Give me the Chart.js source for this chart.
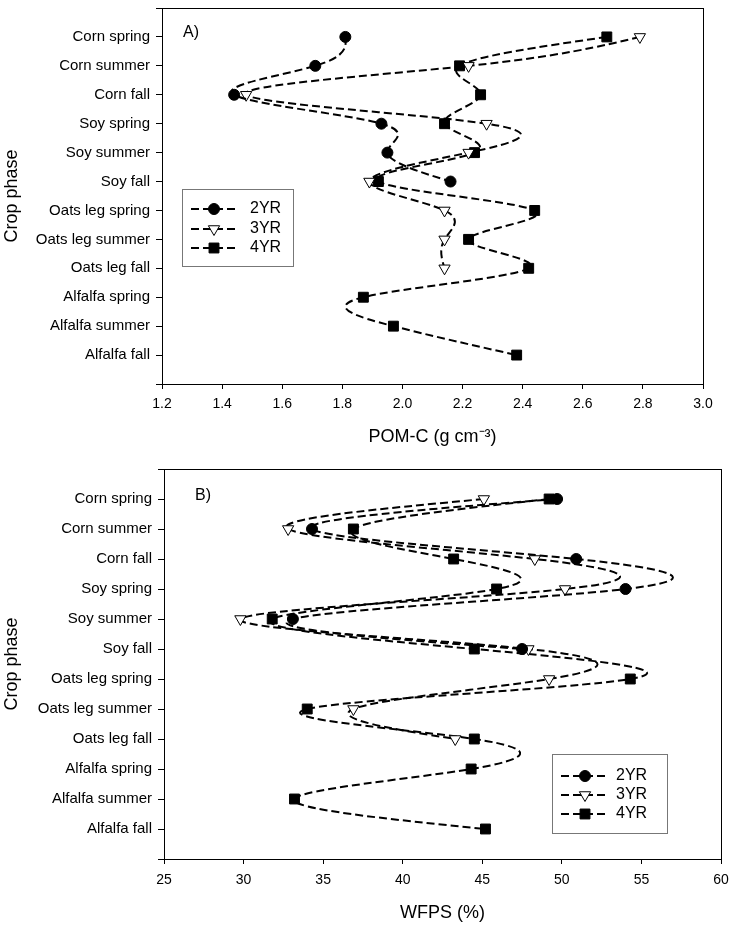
<!DOCTYPE html>
<html>
<head>
<meta charset="utf-8">
<script src="https://cdn.jsdelivr.net/npm/chart.js@4/dist/chart.umd.min.js"></script>
<style>
  body { margin: 0; background: #fff; }
  #wrap { position: relative; width: 733px; height: 928px; }
  canvas { position: absolute; left: 0; }
</style>
</head>
<body>
<div id="wrap">
  <canvas id="chartA" width="733" height="460" style="top:0"></canvas>
  <canvas id="chartB" width="733" height="468" style="top:460px"></canvas>
</div>
<script>
// crop phases, top to bottom
var phases = ['Corn spring', 'Corn summer', 'Corn fall', 'Soy spring', 'Soy summer', 'Soy fall',
  'Oats leg spring', 'Oats leg summer', 'Oats leg fall', 'Alfalfa spring', 'Alfalfa summer', 'Alfalfa fall'];
var seriesNames = ['2YR', '3YR', '4YR'];

// A) POM-C (g cm-3)
var pomc2 = [1.81, 1.71, 1.44, 1.93, 1.95, 2.16];
var pomc3 = [2.79, 2.22, 1.48, 2.28, 2.22, 1.89, 2.14, 2.14, 2.14];
var pomc4 = [2.68, 2.19, 2.26, 2.14, 2.24, 1.92, 2.44, 2.22, 2.42, 1.87, 1.97, 2.38];
var pomTicks = [1.2, 1.4, 1.6, 1.8, 2.0, 2.2, 2.4, 2.6, 2.8, 3.0];

// B) WFPS (%)
var wfps2 = [49.7, 34.3, 50.9, 54.0, 33.1, 47.5];
var wfps3 = [45.1, 32.8, 48.3, 50.2, 29.8, 47.9, 49.2, 36.9, 43.3];
var wfps4 = [49.2, 36.9, 43.2, 45.9, 31.8, 44.5, 54.3, 34.0, 44.5, 44.3, 33.2, 45.2];
var wfpsTicks = [25, 30, 35, 40, 45, 50, 55, 60];

var narrow = '"Liberation Sans Narrow", "Arial Narrow", "Liberation Sans", Arial, sans-serif';
var sans = '"Liberation Sans", Arial, sans-serif';

var markers = [
  { pointStyle: 'circle', radius: 5.5, rotation: 0, fill: '#000' },
  { pointStyle: 'triangle', radius: 6.5, rotation: 180, fill: '#fff' },
  { pointStyle: 'rect', radius: 7, rotation: 0, fill: '#000' }
];

function toPoints(vals) {
  return vals.map(function (v, i) { return { x: v, y: i }; });
}

function makeDataset(vals, k) {
  var m = markers[k];
  return {
    label: seriesNames[k],
    data: toPoints(vals),
    showLine: true,
    borderColor: '#000',
    borderWidth: 2,
    borderDash: [8, 4],
    tension: 0.4,
    fill: false,
    pointStyle: m.pointStyle,
    pointRotation: m.rotation,
    pointRadius: m.radius,
    pointHoverRadius: m.radius,
    pointBackgroundColor: m.fill,
    pointBorderColor: '#000',
    pointBorderWidth: 1
  };
}

// spline x(y) like the original plot: set bezier control points from a natural cubic spline
var splinePlugin = {
  id: 'ySpline',
  beforeDatasetDraw: function (chart, args) {
    var meta = args.meta;
    var line = meta.dataset;
    var pts = meta.data;
    if (!line || pts.length < 2) return;
    line.updateControlPoints(chart.chartArea, meta.indexAxis);
    var n = pts.length, t = [], v = [], h = [], M = [], i;
    for (i = 0; i < n; i++) { t.push(pts[i].y); v.push(pts[i].x); M.push(0); }
    for (i = 0; i < n - 1; i++) h.push(t[i + 1] - t[i]);
    if (n > 2) {
      var a = [], b = [], c = [], d = [];
      for (i = 1; i < n - 1; i++) {
        a.push(h[i - 1]); b.push(2 * (h[i - 1] + h[i])); c.push(h[i]);
        d.push(6 * ((v[i + 1] - v[i]) / h[i] - (v[i] - v[i - 1]) / h[i - 1]));
      }
      var m = b.length;
      for (i = 1; i < m; i++) {
        var w = a[i] / b[i - 1];
        b[i] -= w * c[i - 1];
        d[i] -= w * d[i - 1];
      }
      var sol = new Array(m);
      sol[m - 1] = d[m - 1] / b[m - 1];
      for (i = m - 2; i >= 0; i--) sol[i] = (d[i] - c[i] * sol[i + 1]) / b[i];
      for (i = 0; i < m; i++) M[i + 1] = sol[i];
    }
    pts[0].cp1x = pts[0].x; pts[0].cp1y = pts[0].y;
    pts[n - 1].cp2x = pts[n - 1].x; pts[n - 1].cp2y = pts[n - 1].y;
    for (i = 0; i < n - 1; i++) {
      var s = (v[i + 1] - v[i]) / h[i];
      var d0 = s - h[i] * (2 * M[i] + M[i + 1]) / 6;
      var d1 = s + h[i] * (M[i] + 2 * M[i + 1]) / 6;
      pts[i].cp2x = v[i] + d0 * h[i] / 3;
      pts[i].cp2y = t[i] + h[i] / 3;
      pts[i + 1].cp1x = v[i + 1] - d1 * h[i] / 3;
      pts[i + 1].cp1y = t[i + 1] - h[i] / 3;
    }
  }
};

// frame, panel letter and the boxed legend
var decorPlugin = {
  id: 'decor',
  afterDraw: function (chart, args, opts) {
    var ctx = chart.ctx;
    var area = chart.chartArea;
    ctx.save();
    ctx.strokeStyle = '#000';
    ctx.lineWidth = 1;
    ctx.strokeRect(Math.round(area.left) + 0.5, Math.round(area.top) + 0.5,
      Math.round(area.right - area.left), Math.round(area.bottom - area.top));

    ctx.fillStyle = '#000';
    ctx.font = '16px ' + narrow;
    ctx.textBaseline = 'middle';
    ctx.textAlign = 'left';
    ctx.fillText(opts.letter, opts.letterX, opts.letterY);

    var lg = opts.legend;
    ctx.strokeStyle = '#777';
    ctx.strokeRect(lg.x + 0.5, lg.y + 0.5, lg.w, lg.h);
    for (var k = 0; k < seriesNames.length; k++) {
      var y = lg.rowY[k];
      ctx.strokeStyle = '#000';
      ctx.lineWidth = 2;
      ctx.setLineDash([8, 4]);
      ctx.beginPath();
      ctx.moveTo(lg.lineX0, y);
      ctx.lineTo(lg.lineX1, y);
      ctx.stroke();
      ctx.setLineDash([]);
      ctx.lineWidth = 1;
      ctx.fillStyle = markers[k].fill;
      Chart.helpers.drawPoint(ctx, {
        pointStyle: markers[k].pointStyle,
        radius: markers[k].radius,
        rotation: markers[k].rotation,
        borderWidth: 1
      }, lg.markX, y);
      ctx.fillStyle = '#000';
      ctx.font = '16px ' + narrow;
      ctx.fillText(seriesNames[k], lg.textX, y);
    }
    ctx.restore();
  }
};

function makeChart(id, sets, xTicks, xMin, xMax, xTitle, fmt, cfg) {
  return new Chart(document.getElementById(id), {
    type: 'scatter',
    data: { datasets: sets.map(makeDataset) },
    plugins: [splinePlugin, decorPlugin],
    options: {
      responsive: false,
      animation: false,
      layout: { padding: { top: cfg.top, right: cfg.right, left: 0, bottom: 0 } },
      plugins: {
        legend: { display: false },
        tooltip: { enabled: false },
        decor: cfg.decor
      },
      scales: {
        x: {
          type: 'linear',
          position: 'bottom',
          min: xMin,
          max: xMax,
          afterBuildTicks: function (s) { s.ticks = xTicks.map(function (v) { return { value: v }; }); },
          afterFit: function (s) { s.height = cfg.xHeight; s.paddingLeft = 0; s.paddingRight = 0; },
          ticks: {
            callback: fmt,
            color: '#000',
            font: { family: sans, size: 14 },
            padding: cfg.xPad,
            maxRotation: 0,
            autoSkip: false
          },
          grid: { drawOnChartArea: false, drawTicks: true, tickLength: 5, color: '#000' },
          border: { color: '#000', width: 1 },
          title: {
            display: true,
            text: xTitle,
            color: '#000',
            font: { family: sans, size: 18 },
            padding: { top: 0, bottom: cfg.titlePad }
          }
        },
        y: {
          type: 'linear',
          reverse: true,
          min: -1,
          max: 12,
          afterBuildTicks: function (s) {
            var t = [];
            for (var i = -1; i <= phases.length; i++) t.push({ value: i });
            s.ticks = t;
          },
          afterFit: function (s) { s.width = cfg.yWidth; s.paddingTop = 0; s.paddingBottom = 0; },
          ticks: {
            callback: function (v) { return phases[v] || ''; },
            color: '#000',
            font: { family: narrow, size: 15 },
            padding: 6,
            autoSkip: false
          },
          grid: { drawOnChartArea: false, drawTicks: true, tickLength: 6, color: '#000' },
          border: { color: '#000', width: 1 },
          title: {
            display: true,
            text: 'Crop phase',
            color: '#000',
            font: { family: sans, size: 18 },
            padding: { top: 1, bottom: 0 }
          }
        }
      }
    }
  });
}

makeChart('chartA', [pomc2, pomc3, pomc4], pomTicks, 1.2, 3.0, 'POM-C (g cm\u207B\u00B3)',
  function (v) { return v.toFixed(1); },
  {
    top: 4, right: 30, yWidth: 162, xHeight: 76, xPad: 7, titlePad: 12,
    decor: {
      letter: 'A)', letterX: 183, letterY: 33,
      legend: { x: 182, y: 189, w: 111, h: 77, rowY: [209, 229, 248], lineX0: 191, lineX1: 237, markX: 214, textX: 250 }
    }
  });

makeChart('chartB', [wfps2, wfps3, wfps4], wfpsTicks, 25, 60, 'WFPS (%)',
  function (v) { return String(v); },
  {
    top: 9, right: 12, yWidth: 164, xHeight: 69, xPad: 8, titlePad: 4,
    decor: {
      letter: 'B)', letterX: 195, letterY: 36,
      legend: { x: 552, y: 294, w: 115, h: 79, rowY: [316, 335, 354], lineX0: 561, lineX1: 607, markX: 585, textX: 616 }
    }
  });
</script>
</body>
</html>
